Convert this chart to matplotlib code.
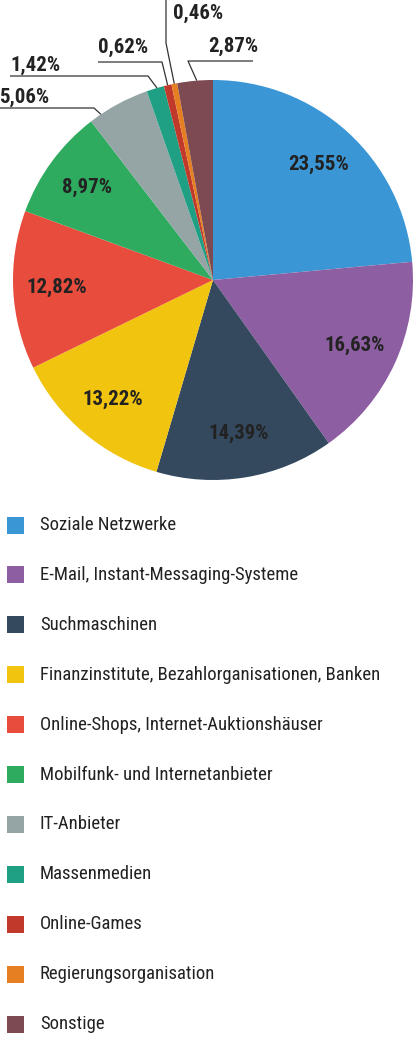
import matplotlib
matplotlib.use("Agg")
import matplotlib.pyplot as plt
from matplotlib.patches import Rectangle
import numpy as np

categories = ["Soziale Netzwerke", "E-Mail, Instant-Messaging-Systeme", "Suchmaschinen",
              "Finanzinstitute, Bezahlorganisationen, Banken", "Online-Shops, Internet-Auktionshäuser",
              "Mobilfunk- und Internetanbieter", "IT-Anbieter", "Massenmedien", "Online-Games",
              "Regierungsorganisation", "Sonstige"]
values = [23.55, 16.63, 14.39, 13.22, 12.82, 8.97, 5.06, 1.42, 0.62, 0.46, 2.87]
colors = ["#3a96d4", "#8e5ea2", "#34495e", "#f1c40f", "#e74c3c", "#2fab60",
          "#95a5a6", "#1fa085", "#c0392b", "#e67e22", "#7d4a52"]
pct_labels = [f"{v:.2f}".replace(".", ",") + "%" for v in values]

W, H = 414, 1037
fig = plt.figure(figsize=(W / 100, H / 100), dpi=100)
ax = fig.add_axes([0, 0, 1, 1])

FONT = ["Roboto Condensed", "DejaVu Sans"]
TXT = "#222222"

def py(y):  # pixel-from-top -> data
    return H - y

cx, cy, R = 213, py(280), 200
wedges, _ = ax.pie(values, colors=colors, startangle=90, counterclock=False,
                   center=(cx, cy), radius=R, frame=True,
                   wedgeprops=dict(linewidth=0))
ax.set_xlim(0, W)
ax.set_ylim(0, H)
ax.set_aspect("equal")
ax.axis("off")

# inside labels
for i, w in enumerate(wedges[:6]):
    a = np.deg2rad((w.theta1 + w.theta2) / 2)
    r = 0.78 * R
    ax.text(cx + r * np.cos(a), cy + r * np.sin(a), pct_labels[i], ha="center", va="center",
            fontsize=15, fontweight="bold", color=TXT, family=FONT)

# outer labels with leader lines
outer = [
    (6, 0.19, [(94, 108), (0, 108)], (-1, 97), "left"),
    (7, 0.6, [(148, 76), (10, 76)], (10, 65), "left"),
    (8, 0.5, [(162, 62), (98, 62)], (98, 47), "left"),
    (9, 0.5, [(166, 43), (166, 0)], (173, 13), "left"),
    (10, 0.55, [(188, 61), (253, 61)], (258, 46), "right"),
]
for i, frac, pts, tpos, ha in outer:
    w = wedges[i]
    a = np.deg2rad(w.theta2 + (w.theta1 - w.theta2) * frac)
    ax0, ay0 = cx + R * np.cos(a), cy + R * np.sin(a)
    xs = [ax0] + [p[0] for p in pts]
    ys = [ay0] + [py(p[1]) for p in pts]
    ax.plot(xs, ys, color="#333333", lw=0.9, solid_capstyle="butt", clip_on=False)
    ax.text(tpos[0], py(tpos[1]), pct_labels[i], ha=ha, va="center",
            fontsize=15, fontweight="bold", color=TXT, family=FONT)

# legend
y0, dy = 525, 49.9
for k, (c, name) in enumerate(zip(colors, categories)):
    yc = y0 + k * dy
    ax.add_patch(Rectangle((7, py(yc) - 8.5), 17, 17, facecolor=c, edgecolor="none"))
    ax.text(40, py(yc), name, ha="left", va="center", fontsize=13.5, color=TXT, family=FONT)

fig.savefig("out.png", dpi=100, facecolor="white")
